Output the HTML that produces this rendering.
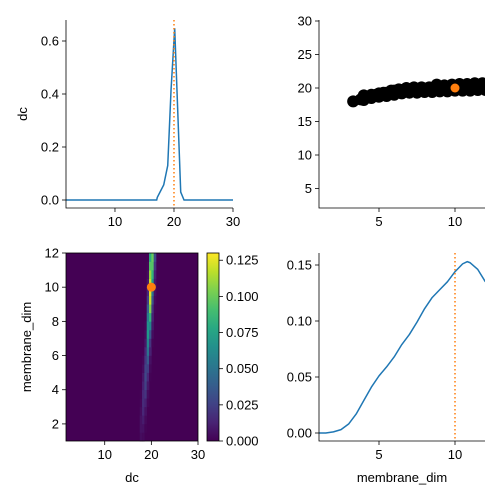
<!DOCTYPE html>
<html><head><meta charset="utf-8">
<style>
html,body{margin:0;padding:0;background:#fff;}
svg{display:block;font-family:"Liberation Sans","DejaVu Sans",sans-serif;}
text{font-size:13px;fill:#000;}
</style></head>
<body>
<svg id="chart" width="500" height="500" viewBox="0 0 500 500"></svg>
<script>
// ---- data ----
const dcX = [1.7, 17.07, 17.17, 18.26, 18.94, 19.5, 20.12, 21.14, 21.7, 30];
const dcDensity = [0, 0, 0.01, 0.057, 0.13, 0.415, 0.648, 0.03, 0, 0];
const memX = [1.05, 1.5, 2, 2.5, 3, 3.5, 4, 4.5, 5, 5.5, 6, 6.5, 7, 7.5, 8, 8.5, 9, 9.5, 10, 10.5, 10.8, 11, 11.5, 12];
const memDensity = [0, 0, 0.001, 0.003, 0.008, 0.017, 0.029, 0.041, 0.051, 0.059, 0.068, 0.079, 0.088, 0.099, 0.111, 0.121, 0.128, 0.135, 0.144, 0.151, 0.153, 0.152, 0.146, 0.135];
const scatterMem = [3.3,3.8,4,4.3,4.5,4.8,5,5.3,5.5,5.8,6,6.3,6.5,6.8,7,7.3,7.5,7.8,8,8.3,8.5,8.8,9,9.3,9.5,9.8,10,10.3,10.5,10.8,11,11.3,11.5,11.8,12,4,4.5,5,5.5,6,6.5,7,7.5,8,8.5,9,9.5,10,10.5,11,11.5,12,5,6,7,8,9,10,11,12];
const scatterDc  = [18,18.3,18.2,18.7,18.5,19.0,18.7,19.3,18.8,19.6,19.0,19.8,19.2,20.0,19.3,20.1,19.3,20.1,19.4,20.1,19.4,20.5,19.5,20.4,19.5,20.5,19.6,20.6,19.6,20.6,19.6,20.7,19.7,20.7,19.7,18.9,19.0,19.2,19.3,19.6,19.7,19.8,19.8,19.9,19.9,20.0,20.0,20.1,20.2,20.2,20.2,20.3,19.1,19.5,19.8,19.9,20.1,20.2,20.3,20.3];
const truthDc = 20, truthMem = 10;
// heatmap: columns of dc, rows of membrane_dim (cell centres)
const hmDc = [17.75, 18.25, 18.75, 19.25, 19.75, 20.25, 20.75, 21.25, 21.75];
const hmMem = [1.25,1.75,2.25,2.75,3.25,3.75,4.25,4.75,5.25,5.75,6.25,6.75,7.25,7.75,8.25,8.75,9.25,9.75,10.25,10.75,11.25,11.75];
const hmVals = [
 [0.004,0.003,0,0,0,0,0,0,0],
 [0.006,0.006,0.001,0,0,0,0,0,0],
 [0.006,0.01,0.003,0,0,0,0,0,0],
 [0.004,0.014,0.006,0,0,0,0,0,0],
 [0.002,0.016,0.012,0.002,0,0,0,0,0],
 [0.001,0.015,0.02,0.004,0,0,0,0,0],
 [0,0.012,0.025,0.008,0,0,0,0,0],
 [0,0.008,0.028,0.014,0.001,0,0,0,0],
 [0,0.004,0.026,0.024,0.003,0,0,0,0],
 [0,0.002,0.02,0.036,0.006,0,0,0,0],
 [0,0,0.014,0.05,0.012,0,0,0,0],
 [0,0,0.008,0.06,0.02,0.001,0,0,0],
 [0,0,0.004,0.07,0.035,0.004,0,0,0],
 [0,0,0.002,0.066,0.06,0.008,0,0,0],
 [0,0,0,0.055,0.085,0.012,0,0,0],
 [0,0,0,0.04,0.105,0.02,0.001,0,0],
 [0,0,0,0.025,0.12,0.035,0.003,0,0],
 [0,0,0,0.015,0.125,0.05,0.005,0,0],
 [0,0,0,0.008,0.12,0.07,0.008,0,0],
 [0,0,0,0.004,0.11,0.085,0.012,0,0],
 [0,0,0,0.002,0.095,0.095,0.02,0,0],
 [0,0,0,0,0.08,0.1,0.03,0,0]];
const dcTicks = [10, 20, 30];
const dcDensTicks = [0.0, 0.2, 0.4, 0.6];
const memTicks = [5, 10];
const scatYTicks = [5, 10, 15, 20, 25, 30];
const hmYTicks = [2, 4, 6, 8, 10, 12];
const cbTicks = [0, 0.025, 0.05, 0.075, 0.1, 0.125];
const memDensTicks = [0, 0.05, 0.1, 0.15];

// ---- helpers ----
const svg = document.getElementById('chart');
const NS = 'http://www.w3.org/2000/svg';
function mk(tag, attrs, parent){const e=document.createElementNS(NS,tag);for(const k in attrs)e.setAttribute(k,attrs[k]);(parent||svg).appendChild(e);return e;}
function lin(d0,d1,r0,r1){return v=>r0+(v-d0)*(r1-r0)/(d1-d0);}
function viridis(t){
 const c=[[68,1,84],[72,40,120],[62,74,137],[49,104,142],[38,130,142],[31,158,137],[53,183,121],[109,205,89],[180,222,44],[253,231,37]];
 t=Math.max(0,Math.min(1,t))*9;const i=Math.min(8,Math.floor(t)),f=t-i;
 const a=c[i],b=c[i+1];return `rgb(${Math.round(a[0]+(b[0]-a[0])*f)},${Math.round(a[1]+(b[1]-a[1])*f)},${Math.round(a[2]+(b[2]-a[2])*f)})`;}
function fmt(v,d){return v.toFixed(d);}
function xAxis(g,sc,ticks,y,dec,name){
 ticks.forEach(t=>{const x=sc(t);
  const l=mk('line',{x1:x,x2:x,y1:y,y2:y+4,stroke:'#000','stroke-width':0.8},g);
  
  const tx=mk('text',{x:x,y:y+18,'text-anchor':'middle'},g);tx.textContent=fmt(t,dec);
  });}
function yAxis(g,sc,ticks,x,dec,name,right){
 ticks.forEach(t=>{const y=sc(t);
  const l=mk('line',{x1:x,x2:right?x+4:x-4,y1:y,y2:y,stroke:'#000','stroke-width':0.8},g);
  
  const tx=mk('text',{x:right?x+7:x-7,y:y+4.5,'text-anchor':right?'start':'end'},g);tx.textContent=fmt(t,dec);
  });}
function spines(g,x0,x1,y0,y1,name){
 const p=mk('path',{d:`M${x0},${y0}V${y1}H${x1}`,fill:'none',stroke:'#000','stroke-width':0.8},g);
 }
function clip(id,x0,y0,w,h){const c=mk('clipPath',{id:id});mk('rect',{x:x0,y:y0,width:w,height:h},c);}

// ---- panel 1: dc marginal ----
{const g=mk('g',{});
 const X=lin(1.7,30,66,233),Y=lin(0,0.6,200,41);
 clip('c1',66,20,167,188);
 const pts=dcX.map((v,i)=>X(v)+','+Y(dcDensity[i])).join(' ');
 const pl=mk('polyline',{points:pts,fill:'none',stroke:'#1f77b4','stroke-width':1.5,'clip-path':'url(#c1)'},g);
 
 const tl=mk('line',{x1:X(truthDc),x2:X(truthDc),y1:20,y2:208,stroke:'#ff7f0e','stroke-width':1.5,'stroke-dasharray':'1.5,2.5'},g);
 
 spines(g,66,233,20,208,'dc-density');
 xAxis(g,X,dcTicks,208,0,'dc-x');yAxis(g,Y,dcDensTicks,66,1,'dc-density-y');
 const yl=mk('text',{x:27,y:114,'text-anchor':'middle',transform:'rotate(-90 27 114)'},g);yl.textContent='dc';
 }

// ---- panel 2: scatter ----
{const g=mk('g',{});
 const X=lin(5,10,379,455),Y=lin(20,30,88,21);
 clip('c2',319,20,166,188);
 const sg=mk('g',{'clip-path':'url(#c2)'},g);
 scatterMem.forEach((m,i)=>{const c=mk('circle',{cx:X(m),cy:Y(scatterDc[i]),r:6,fill:'#000'},sg);
  });
 const t=mk('circle',{cx:X(truthMem),cy:Y(truthDc),r:4.5,fill:'#ff7f0e'},sg);
 
 spines(g,319,485,20,208,'scatter');
 xAxis(g,X,memTicks,208,0,'scatter-x');yAxis(g,Y,scatYTicks,319,0,'scatter-y');}

// ---- panel 3: heatmap ----
{const g=mk('g',{});
 const X=lin(1.7,30,66,198),Y=lin(1,12,441,253);
 const bg=mk('rect',{x:66,y:253,width:132,height:188,fill:viridis(0)},g);
 
 const vmax=0.13;
 hmVals.forEach((row,r)=>row.forEach((v,c)=>{if(v<=0)return;
  const x0=X(hmDc[c]-0.25),x1=X(hmDc[c]+0.25),y0=Y(hmMem[r]+0.25),y1=Y(hmMem[r]-0.25);
  const cell=mk('rect',{x:x0,y:y0,width:x1-x0+0.3,height:y1-y0+0.3,fill:viridis(v/vmax)},g);
  }));
 const t=mk('circle',{cx:X(truthDc),cy:Y(truthMem),r:4.5,fill:'#ff7f0e'},g);
 
 const fr=mk('rect',{x:66,y:253,width:132,height:188,fill:'none',stroke:'#000','stroke-width':0.8},g);
 
 xAxis(g,X,dcTicks,441,0,'heatmap-x');yAxis(g,Y,hmYTicks,66,0,'heatmap-y');
 const xl=mk('text',{x:132,y:482,'text-anchor':'middle'},g);xl.textContent='dc';
 
 const yl=mk('text',{x:31,y:347,'text-anchor':'middle',transform:'rotate(-90 31 347)'},g);yl.textContent='membrane_dim';
 
 // colorbar
 const defs=mk('defs',{});const lg=mk('linearGradient',{id:'vg',x1:0,y1:1,x2:0,y2:0},defs);
 for(let i=0;i<=10;i++)mk('stop',{offset:i/10,'stop-color':viridis(i/10)},lg);
 const CB=lin(0,vmax,441,253);
 const cb=mk('rect',{x:207,y:253,width:12,height:188,fill:'url(#vg)',stroke:'#000','stroke-width':0.8},g);
 
 yAxis(g,CB,cbTicks,219,3,'colorbar',true);}

// ---- panel 4: membrane_dim marginal ----
{const g=mk('g',{});
 const X=lin(5,10,379,455),Y=lin(0,0.15,433,265);
 clip('c4',319,253,166,188);
 const pts=memX.map((v,i)=>X(v)+','+Y(memDensity[i])).join(' ');
 const pl=mk('polyline',{points:pts,fill:'none',stroke:'#1f77b4','stroke-width':1.5,'stroke-linejoin':'round','clip-path':'url(#c4)'},g);
 
 const tl=mk('line',{x1:X(truthMem),x2:X(truthMem),y1:253,y2:441,stroke:'#ff7f0e','stroke-width':1.5,'stroke-dasharray':'1.5,2.5'},g);
 
 spines(g,319,485,253,441,'membrane-density');
 xAxis(g,X,memTicks,441,0,'membrane-x');yAxis(g,Y,memDensTicks,319,2,'membrane-density-y');
 const xl=mk('text',{x:402,y:482,'text-anchor':'middle'},g);xl.textContent='membrane_dim';
 }
</script>
</body></html>
